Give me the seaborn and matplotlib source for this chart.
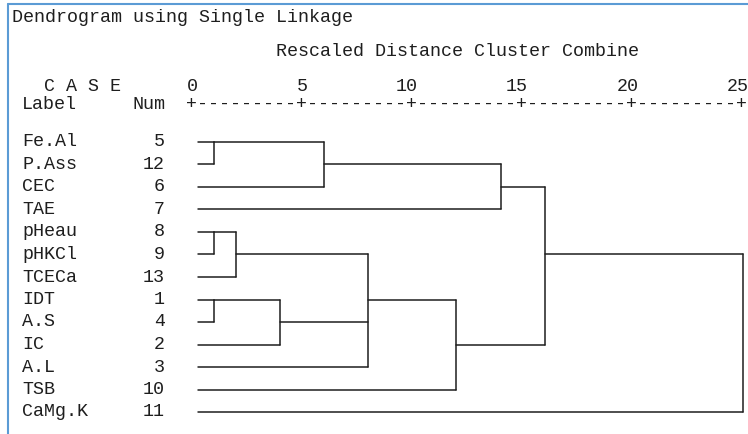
import math
import matplotlib
matplotlib.use("Agg")
import matplotlib.pyplot as plt
import seaborn as sns
import pandas as pd

# case labels and numbers, in the order they are listed
labels = ["Fe.Al", "P.Ass", "CEC", "TAE", "pHeau", "pHKCl", "TCECa",
          "IDT", "A.S", "IC", "A.L", "TSB", "CaMg.K"]
nums = [5, 12, 6, 7, 8, 9, 13, 1, 4, 2, 3, 10, 11]

# merge schedule: children (leaf rows 0..12, new clusters 13..) and rescaled distance
merge_children = [[0, 1], [13, 2], [14, 3], [4, 5], [16, 6], [7, 8], [18, 9],
                  [17, 19, 10], [20, 11], [15, 21], [22, 12]]
merge_heights = [1, 6, 14, 1, 2, 1, 4, 8, 12, 16, 25]

ticks = [0, 5, 10, 15, 20, 25]
leaf_start = 0.25

FONT = "Liberation Mono"
FS = 13.2
INK = "#1e1e1e"

sns.set_style("white")
plt.rcParams["font.family"] = [FONT, "DejaVu Sans"]

fig = plt.figure(figsize=(7.48, 4.34), dpi=100)
ax = fig.add_axes([0, 0, 1, 1])

# pixel layout: distance 0 at x=192px, 25 at x=743px; row 0 at y=142px, 22.5px per row
px_unit = (743 - 192) / 25
x0 = -192 / px_unit
x1 = (748 - 192) / px_unit
row_px = 22.5
y_top = -142 / row_px
y_bot = (434 - 142) / row_px


def xp(px):
    return x0 + px / px_unit


def yp(px):
    return (px - 142) / row_px


# build segments from the schedule
pos = {i: (i, leaf_start) for i in range(len(labels))}
segs = []
for k, (kids, h) in enumerate(zip(merge_children, merge_heights)):
    rows = []
    for c in kids:
        r, x = pos[c]
        segs.append([(x, r), (h, r)])
        rows.append(r)
    lo, hi = min(rows), max(rows)
    segs.append([(h, lo), (h, hi)])
    pos[len(labels) + k] = (math.floor((lo + hi) / 2), h)

recs = []
for i, s in enumerate(segs):
    for (x, y) in s:
        recs.append({"seg": i, "x": x, "y": y})
df = pd.DataFrame(recs)

sns.lineplot(data=df, x="x", y="y", units="seg", estimator=None, sort=False,
             color=INK, linewidth=1.1, ax=ax, legend=False)

# case labels and numbers
for i, (lab, n) in enumerate(zip(labels, nums)):
    ax.text(xp(22), i, lab, fontsize=FS, family=FONT, color=INK, va="center", ha="left")
    ax.text(xp(165), i, str(n), fontsize=FS, family=FONT, color=INK, va="center", ha="right")

# header texts
ax.text(xp(12), yp(18), "Dendrogram using Single Linkage", fontsize=FS, family=FONT,
        color=INK, va="center", ha="left")
ax.text(xp(457.5), yp(52), "Rescaled Distance Cluster Combine",
        fontsize=FS, family=FONT, color=INK, va="center", ha="center")
ax.text(xp(44), yp(87), "C A S E", fontsize=FS, family=FONT, color=INK, va="center", ha="left")
ax.text(xp(22), yp(105), "Label", fontsize=FS, family=FONT, color=INK, va="center", ha="left")
ax.text(xp(165), yp(105), "Num", fontsize=FS, family=FONT, color=INK, va="center", ha="right")

# last digit of each tick number sits over its '+'
for t in ticks:
    ax.text(t + 0.25, yp(87), str(t), fontsize=FS, family=FONT, color=INK,
            va="center", ha="right")

step = ticks[1] - ticks[0]
axis_str = "+" + "+".join(["-" * (2 * step - 1)] * (len(ticks) - 1)) + "+"
ax.text(ticks[0] - 0.25, yp(105), axis_str, fontsize=FS, family=FONT, color=INK,
        va="center", ha="left")

# window border
ax.plot([xp(8), xp(8)], [yp(4), y_bot], color="#5b9bd5", linewidth=1.5)
ax.plot([xp(8), x1], [yp(4), yp(4)], color="#5b9bd5", linewidth=1.5)

ax.set_xlim(x0, x1)
ax.set_ylim(y_bot, y_top)
ax.axis("off")

fig.savefig("out.png", dpi=100)
